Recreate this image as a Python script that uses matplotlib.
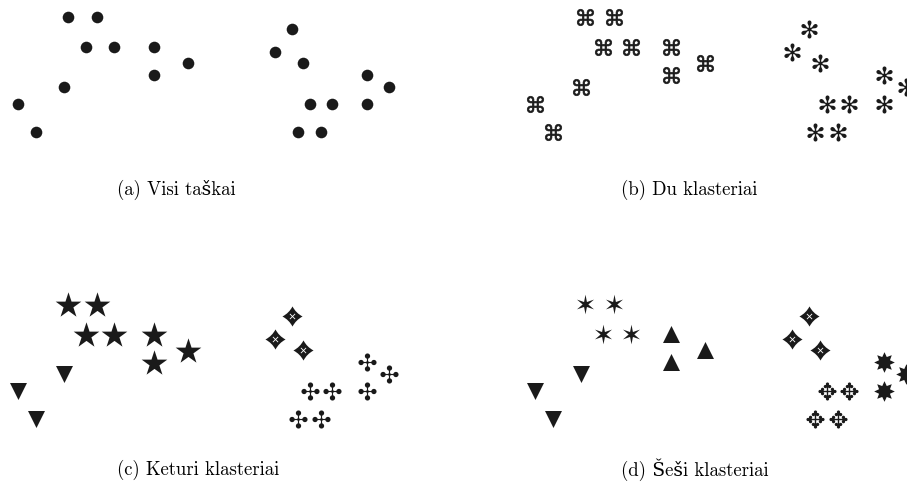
import matplotlib.pyplot as plt
from matplotlib.path import Path

# point coordinates shared by all four panels (y grows downward)
left_x = [68, 97, 86, 114, 154, 188, 154, 64, 18, 36]
left_y = [17, 17, 47, 47, 47, 63, 75, 87, 104, 132]
right_x = [292, 275, 303, 367, 389, 310, 332, 367, 298, 321]
right_y = [29, 52, 63, 75, 87, 104, 104, 104, 132, 132]

# glyph per point in each panel
marks_a = ['dot'] * 10 + ['dot'] * 10
marks_b = ['\u2318'] * 10 + ['\u273B'] * 10
marks_c = ['\u2605'] * 7 + ['\u25BC'] * 3 + ['diamond'] * 3 + ['\u2723'] * 7
marks_d = (['\u2736'] * 4 + ['\u25B2'] * 3 + ['\u25BC'] * 3 +
           ['diamond'] * 3 + ['\u2738', '\u2738', '\u2725', '\u2725',
                              '\u2738', '\u2725', '\u2725'])

captions = ['(a) Visi taškai', '(b) Du klasteriai',
            '(c) Keturi klasteriai', '(d) Šeši klasteriai']

sizes = {'dot': 70, '\u2318': 140, '\u273B': 170, '\u2605': 340,
         '\u25BC': 150, '\u25B2': 150, 'diamond': 210, '\u2723': 170,
         '\u2736': 200, '\u2738': 220, '\u2725': 170}

# diamond with slightly concave sides
c = 0.34
concave = Path([(0, 1), (c, c), (1, 0), (c, -c), (0, -1), (-c, -c), (-1, 0),
                (-c, c), (0, 1), (0, 1)],
               [Path.MOVETO, Path.CURVE3, Path.CURVE3, Path.CURVE3, Path.CURVE3,
                Path.CURVE3, Path.CURVE3, Path.CURVE3, Path.CURVE3, Path.CLOSEPOLY])

W, H = 907, 488
fig = plt.figure(figsize=(W / 100, H / 100), dpi=100)

xs = left_x + right_x
ys = left_y + right_y
panels = [(0, 0), (517, 0), (0, 287), (517, 287)]
cap_pos = [(117, 190), (621, 190), (117, 470), (621, 470)]
ink = '#1a1a1a'

for (px, py), marks, cap, (cx, cy) in zip(panels, [marks_a, marks_b, marks_c, marks_d],
                                        captions, cap_pos):
    ax = fig.add_axes([px / W, 1 - (py + 150) / H, 390 / W, 150 / H])
    ax.set_xlim(0, 390)
    ax.set_ylim(150, 0)
    ax.axis('off')
    for x, y, m in zip(xs, ys, marks):
        if m == 'dot':
            ax.scatter(x, y, s=sizes[m], marker='o', color=ink,
                       linewidths=0, clip_on=False)
        elif m == 'diamond':
            ax.scatter(x, y, s=sizes[m], marker=concave, color=ink,
                       linewidths=0, clip_on=False)
            ax.scatter(x, y, s=14, marker='x', color='white',
                       linewidths=0.6, clip_on=False)
        else:
            lw = 0.5 if m == '\u2318' else 0
            ax.scatter(x, y, s=sizes[m], marker=f'${m}$', color=ink,
                       edgecolors=ink, linewidths=lw, clip_on=False)
    fig.text(cx / W, 1 - cy / H, cap, ha='left', va='center', fontsize=13.5,
             family=['cmr10', 'DejaVu Serif'])

plt.savefig('out.png', dpi=100)
